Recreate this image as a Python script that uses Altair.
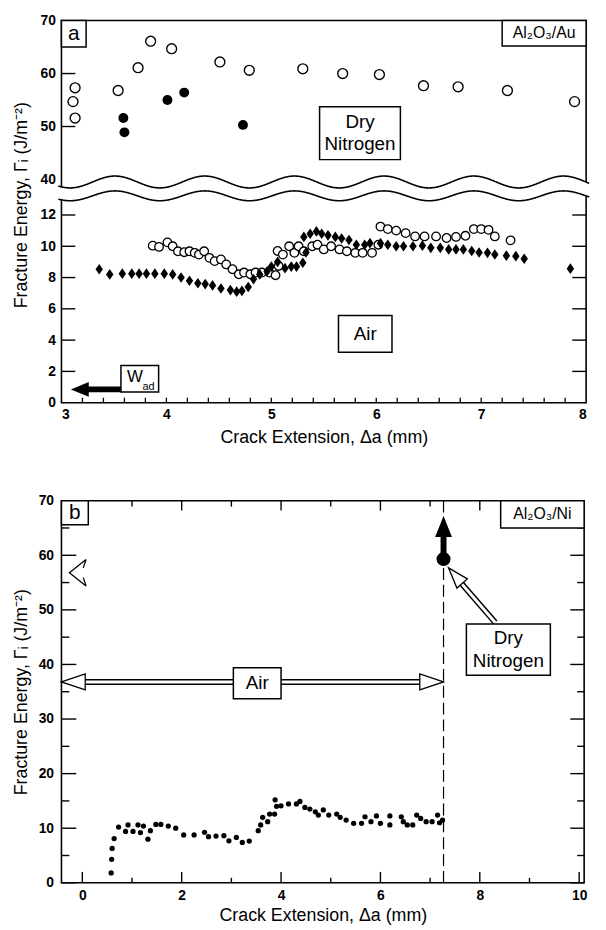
import altair as alt
import pandas as pd

FONT = "Liberation Sans"

# ---------------- Panel a : Al2O3/Au ----------------
# dry nitrogen, open circles
a_n2_open_x = [3.13, 3.11, 3.13, 3.54, 3.73, 3.85, 4.05, 4.51, 4.79, 5.30, 5.68, 6.03, 6.45, 6.78, 7.25, 7.89]
a_n2_open_y = [57.3, 54.7, 51.6, 56.8, 61.1, 66.1, 64.7, 62.2, 60.6, 60.9, 60.0, 59.8, 57.7, 57.5, 56.8, 54.7]
# dry nitrogen, filled circles
a_n2_fill_x = [3.59, 3.60, 4.01, 4.17, 4.73]
a_n2_fill_y = [51.6, 48.9, 55.0, 56.4, 50.3]
# air, filled diamonds
a_air_dia_x = [3.36, 3.46, 3.58, 3.67, 3.74, 3.81, 3.89, 3.98, 4.06, 4.14, 4.22, 4.30, 4.37, 4.44,
               4.52, 4.61, 4.67, 4.72, 4.78, 4.83, 4.89, 4.96, 5.00, 5.06, 5.13, 5.19, 5.24, 5.30,
               5.33, 5.31, 5.37, 5.43, 5.48, 5.54, 5.61, 5.67, 5.74, 5.81, 5.89, 5.94, 6.04, 6.11,
               6.19, 6.26, 6.35, 6.44, 6.52, 6.61, 6.69, 6.76, 6.83, 6.91, 6.98, 7.06, 7.13, 7.24,
               7.33, 7.41, 7.85]
a_air_dia_y = [8.53, 8.20, 8.25, 8.25, 8.25, 8.25, 8.25, 8.25, 8.20, 8.00, 7.80, 7.64, 7.58, 7.50,
               7.30, 7.20, 7.10, 7.15, 7.40, 7.90, 8.20, 8.40, 8.70, 9.00, 8.60, 8.70, 8.70, 8.95,
               9.60, 10.60, 10.80, 10.95, 10.80, 10.70, 10.60, 10.50, 10.40, 10.10, 10.10, 10.20, 10.20, 10.10,
               10.00, 10.00, 10.00, 10.04, 9.90, 9.90, 9.80, 9.80, 9.80, 9.70, 9.60, 9.58, 9.47, 9.40,
               9.37, 9.20, 8.57]
# air, open circles
a_air_open_x = [3.87, 3.93, 4.01, 4.06, 4.11, 4.17, 4.22, 4.27, 4.31, 4.36, 4.41, 4.46, 4.52, 4.57,
                4.63, 4.69, 4.74, 4.80, 4.85, 4.91, 4.98, 5.04, 5.07, 5.06, 5.11, 5.17, 5.22, 5.26,
                5.31, 5.39, 5.44, 5.50, 5.57, 5.65, 5.72, 5.80, 5.87, 5.96, 6.02, 6.04, 6.11, 6.19,
                6.28, 6.37, 6.46, 6.57, 6.67, 6.76, 6.85, 6.93, 7.00, 7.07, 7.13, 7.28]
a_air_open_y = [10.04, 9.96, 10.25, 10.00, 9.68, 9.62, 9.68, 9.58, 9.47, 9.68, 9.26, 9.05, 9.16, 8.84,
                8.53, 8.21, 8.32, 8.21, 8.32, 8.32, 8.32, 8.15, 8.74, 9.70, 9.47, 10.00, 9.58, 10.00,
                9.68, 10.00, 10.10, 9.80, 10.00, 9.80, 9.68, 9.58, 9.58, 9.58, 10.10, 11.26, 11.10, 11.00,
                10.84, 10.63, 10.63, 10.63, 10.53, 10.60, 10.67, 11.10, 11.10, 11.05, 10.63, 10.38]

a_x_labels = [3, 4, 5, 6, 7, 8]
a_x_ticks = [3.2, 3.4, 3.6, 3.8, 4.0, 4.2, 4.4, 4.6, 4.8, 5.0, 5.2, 5.4, 5.6, 5.8,
             6.0, 6.2, 6.4, 6.6, 6.8, 7.0, 7.2, 7.4, 7.6, 7.8]
a_y_low_labels = [0, 2, 4, 6, 8, 10, 12]
a_y_up_labels = [40, 50, 60, 70]
a_y_up_ticks = [50, 60]

# ---------------- Panel b : Al2O3/Ni ----------------
b_air_x = [0.58, 0.59, 0.60, 0.64, 0.73, 0.87, 0.92, 1.02, 1.12, 1.17, 1.23, 1.32, 1.37, 1.48,
           1.58, 1.73, 1.88, 2.04, 2.25, 2.46, 2.54, 2.69, 2.85, 2.95, 3.10, 3.22, 3.36, 3.54,
           3.59, 3.63, 3.73, 3.77, 3.87, 3.88, 3.91, 4.00, 4.15, 4.31, 4.38, 4.48, 4.58, 4.69,
           4.75, 4.85, 4.96, 5.12, 5.19, 5.31, 5.46, 5.62, 5.69, 5.81, 5.92, 6.00, 6.19, 6.19,
           6.42, 6.46, 6.54, 6.65, 6.73, 6.81, 6.92, 7.04, 7.15, 7.19, 7.25]
b_air_y = [1.8, 4.3, 6.3, 8.1, 10.2, 9.4, 10.6, 9.4, 10.6, 9.2, 10.4, 8.0, 9.55, 10.7,
           10.7, 10.4, 10.0, 8.76, 8.76, 9.25, 8.45, 8.57, 8.63, 7.7, 8.3, 7.4, 7.65, 9.55,
           10.6, 12.0, 11.2, 12.6, 12.6, 15.2, 14.0, 14.1, 14.45, 14.45, 14.9, 13.8, 13.5, 13.0,
           12.4, 13.35, 12.4, 12.6, 12.0, 11.5, 10.9, 10.9, 12.1, 11.2, 12.25, 10.9, 12.25, 10.6,
           12.1, 11.2, 10.6, 10.6, 12.4, 11.8, 11.2, 11.2, 12.4, 11.0, 11.5]
b_n2_x = [7.27]
b_n2_y = [59.3]

b_x_major = [0, 2, 4, 6, 8, 10]
b_x_minor = [1, 3, 5, 7, 9]
b_y_major = [0, 10, 20, 30, 40, 50, 60, 70]
b_y_minor = [5, 15, 25, 35, 45, 55, 65]

# ---------------- layout constants ----------------
W_A, H_A = 530, 386
W_B, H_B = 528, 386
Y40, K = 14.27, 0.3387      # broken axis: upper part compressed onto same scale
YTOP = Y40 + 30 * K


def tr(v):
    return v if v < 20 else Y40 + (v - 40) * K


def brk(f):
    return f"datum.{f} < 20 ? datum.{f} : {Y40} + (datum.{f} - 40) * {K}"


xa = alt.Scale(domain=[3, 8], nice=False, zero=False)
ya = alt.Scale(domain=[0, YTOP], nice=False, zero=False)
xb = alt.Scale(domain=[-0.42, 10.1], nice=False, zero=False)
yb = alt.Scale(domain=[0, 70], nice=False, zero=False)

AX = dict(labelFont=FONT, labelFontSize=14, labelFontWeight="bold", labelColor="black",
          titleFont=FONT, titleFontSize=18, titleFontWeight="normal", titleColor="black",
          grid=False, domain=False, ticks=False, tickSize=0)

YTITLE = "Fracture Energy, Γᵢ (J/m⁻²)"
XTITLE = "Crack Extension, Δa (mm)"

AXIS_XA = alt.Axis(values=a_x_labels, format="d", labelPadding=5, title=XTITLE, titlePadding=7, **AX)
AXIS_YA = alt.Axis(
    values=[tr(v) for v in a_y_low_labels + a_y_up_labels], labelPadding=6,
    labelExpr=f"datum.value < 13.6 ? format(datum.value, 'd') : format(round(40 + (datum.value - {Y40}) / {K}), 'd')",
    title=YTITLE, titleX=-31, titleY=186, titleBaseline="bottom", **AX)
AXIS_XB = alt.Axis(values=b_x_major, format="d", labelPadding=6, title=XTITLE, titlePadding=4, **AX)
AXIS_YB = alt.Axis(values=b_y_major, format="d", labelPadding=8, title=YTITLE, titleX=-31,
                   titleBaseline="bottom", **AX)


def xA(f="x"):
    return alt.X(f"{f}:Q", scale=xa, axis=AXIS_XA)


def yA(f="yt"):
    return alt.Y(f"{f}:Q", scale=ya, axis=AXIS_YA)


def xB(f="x"):
    return alt.X(f"{f}:Q", scale=xb, axis=AXIS_XB)


def yB(f="y"):
    return alt.Y(f"{f}:Q", scale=yb, axis=AXIS_YB)


one = pd.DataFrame({"d": [0]})


def A(data):
    return alt.Chart(data).transform_calculate(yt=brk("y"))


def box_a(x1, x2, y1, y2):
    d = pd.DataFrame({"x1": [x1], "x2": [x2], "y1": [y1], "y2": [y2]})
    return (alt.Chart(d).transform_calculate(t1=brk("y1")).transform_calculate(t2=brk("y2"))
            .mark_rect(fill="white", stroke="black", strokeWidth=1.5)
            .encode(x=xA("x1"), x2="x2:Q", y=yA("t1"), y2="t2:Q"))


def text_a(xs, ys, ts, size):
    d = pd.DataFrame({"x": xs, "y": ys, "t": ts})
    return (A(d).mark_text(font=FONT, fontSize=size, color="black", align="center", baseline="middle")
            .encode(x=xA(), y=yA(), text="t:N"))


def box_b(x1, x2, y1, y2):
    d = pd.DataFrame({"x1": [x1], "x2": [x2], "y1": [y1], "y2": [y2]})
    return (alt.Chart(d).mark_rect(fill="white", stroke="black", strokeWidth=1.5)
            .encode(x=xB("x1"), x2="x2:Q", y=yB("y1"), y2="y2:Q"))


def text_b(xs, ys, ts, size):
    d = pd.DataFrame({"x": xs, "y": ys, "t": ts})
    return (alt.Chart(d).mark_text(font=FONT, fontSize=size, color="black", align="center", baseline="middle")
            .encode(x=xB(), y=yB(), text="t:N"))


# ================= Panel a =================
air_dia = A(pd.DataFrame({"x": a_air_dia_x, "y": a_air_dia_y})).mark_point(
    shape="M0,-1L0.7,0L0,1L-0.7,0Z", filled=True, color="black", size=115, opacity=1
).encode(x=xA(), y=yA())

frame_a = alt.Chart(one).mark_rect(fill="white", stroke="black", strokeWidth=1.6).encode(
    x=alt.value(0), x2=alt.value(W_A), y=alt.value(0), y2=alt.value(H_A))

ticks_left_a = A(pd.DataFrame({"y": a_y_low_labels[1:] + a_y_up_ticks})).mark_rule(
    color="black", strokeWidth=1.4).encode(y=yA(), x=alt.value(0), x2=alt.value(14))
ticks_right_a = A(pd.DataFrame({"y": a_y_low_labels[1:]})).mark_rule(
    color="black", strokeWidth=1.4).encode(y=yA(), x=alt.value(W_A - 14), x2=alt.value(W_A))
ticks_bot_a = alt.Chart(pd.DataFrame({"x": a_x_ticks})).mark_rule(
    color="black", strokeWidth=1.3).encode(x=xA(), y=alt.value(H_A - 5), y2=alt.value(H_A))

wave = (alt.Chart(alt.sequence(2.97, 8.035, 0.005, as_="x"))
        .transform_calculate(ph="2 * PI * (datum.x - 3.51) / 0.855")
        .transform_calculate(yu="14.11 + 0.38 * cos(datum.ph)")
        .transform_calculate(yl="13.225 + 0.315 * cos(datum.ph)"))
wave_fill = wave.mark_area(color="white", opacity=1).encode(x=xA(), y=yA("yu"), y2="yl:Q")
wave_up = wave.mark_line(color="black", strokeWidth=1.6).encode(x=xA(), y=yA("yu"))
wave_lo = wave.mark_line(color="black", strokeWidth=1.6).encode(x=xA(), y=yA("yl"))

n2_open = A(pd.DataFrame({"x": a_n2_open_x, "y": a_n2_open_y})).mark_point(
    shape="circle", filled=True, fill="white", stroke="black", strokeWidth=1.4, size=100, opacity=1
).encode(x=xA(), y=yA())
n2_fill = A(pd.DataFrame({"x": a_n2_fill_x, "y": a_n2_fill_y})).mark_point(
    shape="circle", filled=True, color="black", size=100, opacity=1).encode(x=xA(), y=yA())

air_open = A(pd.DataFrame({"x": a_air_open_x, "y": a_air_open_y})).mark_point(
    shape="circle", filled=True, fill="white", stroke="black", strokeWidth=1.3, size=75, opacity=1
).encode(x=xA(), y=yA())

# W_ad arrow
wad_shaft = A(pd.DataFrame({"x": [3.2], "x2": [3.57], "y": [0.85]})).mark_rule(
    color="black", strokeWidth=6).encode(x=xA(), x2="x2:Q", y=yA())
wad_head = A(pd.DataFrame({"x": [3.09], "y": [0.85]})).mark_point(
    shape="M0,0L2.4,-1L2.4,1Z", filled=True, color="black", size=225, opacity=1).encode(x=xA(), y=yA())

panel_a = alt.layer(
    frame_a, ticks_left_a, ticks_right_a, ticks_bot_a,
    wave_fill, wave_up, wave_lo,
    n2_open, n2_fill, air_open, air_dia,
    wad_shaft,
    box_a(3.0, 3.235, 65.0, 70.0), text_a([3.117], [67.5], ["a"], 21),
    box_a(7.2, 8.0, 65.2, 70.0), text_a([7.6], [67.6], ["Al₂O₃/Au"], 16),
    box_a(5.46, 6.23, 43.75, 53.75), text_a([5.845, 5.845], [50.9, 46.6], ["Dry", "Nitrogen"], 19),
    box_a(5.64, 6.15, 3.22, 5.58), text_a([5.895], [4.4], ["Air"], 19),
    box_a(3.567, 3.926, 0.69, 2.38), text_a([3.70], [1.62], ["W"], 17), text_a([3.83], [1.0], ["ad"], 11),
    wad_head,
).properties(width=W_A, height=H_A)

# ================= Panel b =================
frame_b = alt.Chart(one).mark_rect(fill="white", stroke="black", strokeWidth=1.6).encode(
    x=alt.value(0), x2=alt.value(W_B), y=alt.value(0), y2=alt.value(H_B))


def yrule(vals, x1, x2):
    return alt.Chart(pd.DataFrame({"y": vals})).mark_rule(color="black", strokeWidth=1.4).encode(
        y=yB(), x=alt.value(x1), x2=alt.value(x2))


def xrule(vals, y1, y2):
    return alt.Chart(pd.DataFrame({"x": vals})).mark_rule(color="black", strokeWidth=1.4).encode(
        x=xB(), y=alt.value(y1), y2=alt.value(y2))


tb_lmaj = yrule(b_y_major, 0, 15)
tb_lmin = yrule(b_y_minor, 0, 8)
tb_rmaj = yrule(b_y_major, W_B - 14, W_B)
tb_rmin = yrule(b_y_minor, W_B - 7, W_B)
tb_bmaj = xrule(b_x_major, H_B - 11, H_B)
tb_bmin = xrule(b_x_minor, H_B - 5, H_B)
tb_tmaj = xrule(b_x_major, 0, 10)
tb_tmin = xrule(b_x_minor, 0, 6)

dash_b = alt.Chart(pd.DataFrame({"x": [7.27], "y": [0], "y2": [70]})).mark_rule(
    color="black", strokeWidth=1.2, strokeDash=[12, 5]).encode(x=xB(), y=yB(), y2="y2:Q")

air_b = alt.Chart(pd.DataFrame({"x": b_air_x, "y": b_air_y})).mark_point(
    shape="circle", filled=True, color="black", size=28, opacity=1).encode(x=xB(), y=yB())

up_shaft = alt.Chart(pd.DataFrame({"x": [7.27], "y": [59.3], "y2": [63.9]})).mark_rule(
    color="black", strokeWidth=6).encode(x=xB(), y=yB(), y2="y2:Q")
up_head = alt.Chart(pd.DataFrame({"x": [7.27], "y": [67.2]})).mark_point(
    shape="M0,0L-1,2.5L1,2.5Z", filled=True, color="black", size=289, opacity=1).encode(x=xB(), y=yB())
n2_b = alt.Chart(pd.DataFrame({"x": b_n2_x, "y": b_n2_y})).mark_point(
    shape="circle", filled=True, color="black", size=200, opacity=1).encode(x=xB(), y=yB())

# open double arrow "Air"
air_arrow_d = pd.DataFrame({"x": [-0.12], "x2": [6.97], "y": [36.8]})
air_shaft_k = alt.Chart(air_arrow_d).mark_rule(color="black", strokeWidth=6).encode(x=xB(), x2="x2:Q", y=yB())
air_shaft_w = alt.Chart(air_arrow_d).mark_rule(color="white", strokeWidth=3).encode(x=xB(), x2="x2:Q", y=yB())
air_head_l = alt.Chart(pd.DataFrame({"x": [-0.42], "y": [36.8]})).mark_point(
    shape="M0,0L3,-1L3,1Z", filled=True, fill="white", stroke="black", strokeWidth=1.3, size=256, opacity=1
).encode(x=xB(), y=yB())
air_head_r = alt.Chart(pd.DataFrame({"x": [7.27], "y": [36.8]})).mark_point(
    shape="M0,0L-3,-1L-3,1Z", filled=True, fill="white", stroke="black", strokeWidth=1.3, size=256, opacity=1
).encode(x=xB(), y=yB())

# open arrow head at left
open_lt = alt.Chart(pd.DataFrame({"x": [-0.26], "y": [56.8]})).mark_point(
    shape="M2.4,-1.9L0,0L2.4,1.9M2.4,-1.9L2.0,-0.7M2.4,1.9L2.0,0.7", filled=False, stroke="black",
    strokeWidth=1.3, size=196, opacity=1).encode(x=xB(), y=yB())

# open arrow from "Dry Nitrogen" box to the point
n2_arrow_d = pd.DataFrame({"x": [8.31], "x2": [7.52], "y": [47.7], "y2": [56.0]})
n2_shaft_k = alt.Chart(n2_arrow_d).mark_rule(color="black", strokeWidth=6).encode(
    x=xB(), x2="x2:Q", y=yB(), y2="y2:Q")
n2_shaft_w = alt.Chart(n2_arrow_d).mark_rule(color="white", strokeWidth=3).encode(
    x=xB(), x2="x2:Q", y=yB(), y2="y2:Q")
n2_head = alt.Chart(pd.DataFrame({"x": [7.37], "y": [57.7]})).mark_point(
    shape="M0,0L-1,3L1,3Z", filled=True, fill="white", stroke="black", strokeWidth=1.3, size=196,
    angle=319, opacity=1).encode(x=xB(), y=yB())

panel_b = alt.layer(
    frame_b, tb_lmaj, tb_lmin, tb_rmaj, tb_rmin, tb_bmaj, tb_bmin, tb_tmaj, tb_tmin,
    dash_b, air_b,
    air_shaft_k, air_shaft_w, air_head_l, air_head_r,
    up_shaft, up_head, n2_b, open_lt,
    n2_shaft_k, n2_shaft_w, n2_head,
    box_b(-0.42, 0.12, 65.6, 70.0), text_b([-0.15], [67.8], ["b"], 21),
    box_b(8.42, 10.1, 65.0, 70.0), text_b([9.26], [67.5], ["Al₂O₃/Ni"], 16),
    box_b(3.04, 4.0, 33.7, 39.4), text_b([3.52], [36.6], ["Air"], 19),
    box_b(7.73, 9.42, 38.0, 47.4), text_b([8.575, 8.575], [44.9, 40.7], ["Dry", "Nitrogen"], 19),
).properties(width=W_B, height=H_B)

chart = alt.vconcat(panel_a, panel_b, spacing=48).properties(
    padding={"left": 5, "top": 1, "right": 5, "bottom": 2}
).configure_view(stroke=None).configure_axis(
    labelFont=FONT, labelFontSize=14, labelFontWeight="bold", labelColor="black",
    titleFont=FONT, titleFontSize=18, titleFontWeight="normal", titleColor="black",
    grid=False, domain=False, ticks=False, tickSize=0,
)

chart.save("out.html", embed_options={"renderer": "svg", "actions": False})
